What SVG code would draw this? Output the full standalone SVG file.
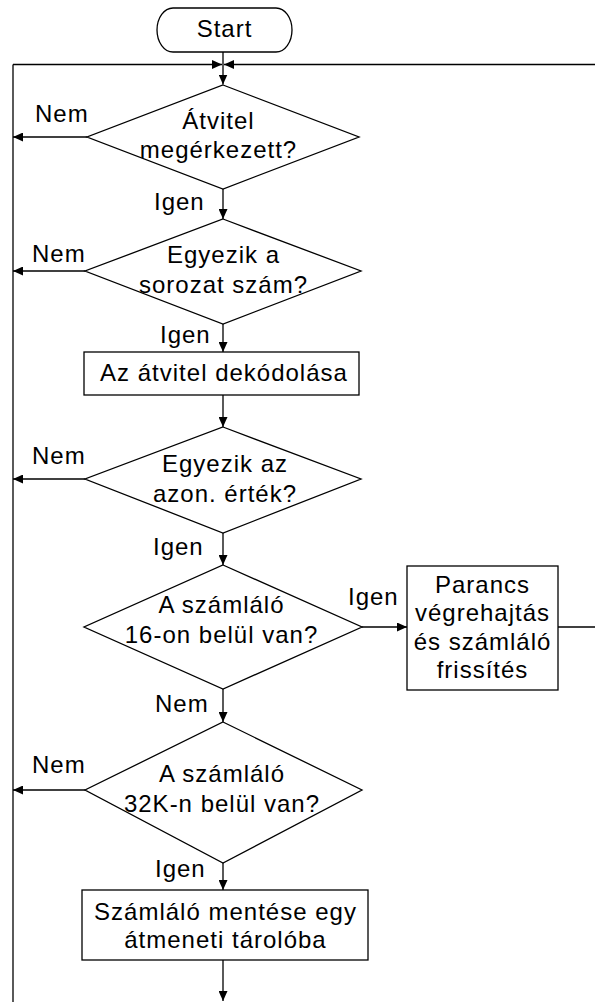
<svg xmlns="http://www.w3.org/2000/svg" width="595" height="1002" viewBox="0 0 595 1002">
  <style>
    .shape { fill: #fff; stroke: #000; stroke-width: 1.3; }
    .line { fill: none; stroke: #000; stroke-width: 1.3; }
    .arrow { marker-end: url(#head); }
    text { font-family: "Liberation Sans", Arial, sans-serif; font-size: 24px; letter-spacing: 1px; fill: #000; }
    .c { text-anchor: middle; }
  </style>
  <defs>
    <marker id="head" markerUnits="userSpaceOnUse" markerWidth="11" markerHeight="9" refX="10" refY="4.5" orient="auto">
      <path d="M0,0 L10,4.5 L0,9 Z" fill="#000"/>
    </marker>
  </defs>
  <rect width="595" height="1002" fill="#fff"/>

  <g id="connectors">
    <!-- start to first decision, joined by the return loops -->
    <path class="line arrow" d="M223,52 V84.5"/>
    <path class="line arrow" d="M13,64.5 H222"/>
    <path class="line arrow" d="M595,64.5 H224"/>
    <path class="line" d="M13,64.5 V1002"/>
    <!-- main spine -->
    <path class="line arrow" d="M223,189 V219"/>
    <path class="line arrow" d="M223,324 V352"/>
    <path class="line arrow" d="M223,395 V427"/>
    <path class="line arrow" d="M223,533 V565"/>
    <path class="line arrow" d="M223,689 V722"/>
    <path class="line arrow" d="M223,863 V890"/>
    <path class="line arrow" d="M223,960 V1001"/>
    <!-- "Nem" exits to the left loop -->
    <path class="line arrow" d="M87,137 H13"/>
    <path class="line arrow" d="M85,271 H13"/>
    <path class="line arrow" d="M85,479 H13"/>
    <path class="line arrow" d="M85,790 H13"/>
    <!-- execute branch -->
    <path class="line arrow" d="M362,627 H407"/>
    <path class="line" d="M558,627 H595"/>
    <!-- branch labels -->
    <text x="35" y="122">Nem</text>
    <text x="32" y="262">Nem</text>
    <text x="32" y="464">Nem</text>
    <text x="32" y="773">Nem</text>
    <text x="154" y="210">Igen</text>
    <text x="160" y="343">Igen</text>
    <text x="153" y="555">Igen</text>
    <text x="155" y="712">Nem</text>
    <text x="155" y="877">Igen</text>
    <text x="348" y="605">Igen</text>
  </g>

  <g id="start">
    <rect class="shape" x="157" y="8" width="135" height="44" rx="16" ry="22"/>
    <text class="c" x="224.5" y="37">Start</text>
  </g>

  <g id="d-arrived">
    <path class="shape" d="M223,85 L359,137 L223,189 L87,137 Z"/>
    <text class="c" x="218.5" y="129">Átvitel</text>
    <text class="c" x="218.5" y="158">megérkezett?</text>
  </g>

  <g id="d-serial">
    <path class="shape" d="M223,219 L361,271 L223,324 L85,271 Z"/>
    <text class="c" x="223.5" y="263">Egyezik a</text>
    <text class="c" x="223.5" y="293">sorozat szám?</text>
  </g>

  <g id="p-decode">
    <rect class="shape" x="84" y="352" width="275" height="43"/>
    <text class="c" x="224" y="381">Az átvitel dekódolása</text>
  </g>

  <g id="d-id">
    <path class="shape" d="M223,427 L361,479 L223,533 L85,479 Z"/>
    <text class="c" x="225" y="472">Egyezik az</text>
    <text class="c" x="225" y="502">azon. érték?</text>
  </g>

  <g id="d-within16">
    <path class="shape" d="M223,565 L362,627 L223,689 L84,627 Z"/>
    <text class="c" x="221.5" y="613">A számláló</text>
    <text class="c" x="221.5" y="643">16-on belül van?</text>
  </g>

  <g id="p-execute">
    <rect class="shape" x="407" y="566" width="151" height="124"/>
    <text class="c" x="482.5" y="593">Parancs</text>
    <text class="c" x="482.5" y="621">végrehajtás</text>
    <text class="c" x="482.5" y="650">és számláló</text>
    <text class="c" x="482.5" y="678">frissítés</text>
  </g>

  <g id="d-within32k">
    <path class="shape" d="M223,722 L362,790 L223,863 L85,790 Z"/>
    <text class="c" x="222" y="782">A számláló</text>
    <text class="c" x="222" y="812">32K-n belül van?</text>
  </g>

  <g id="p-store">
    <rect class="shape" x="82" y="890" width="286" height="70"/>
    <text class="c" x="225.5" y="920">Számláló mentése egy</text>
    <text class="c" x="225.5" y="948">átmeneti tárolóba</text>
  </g>
</svg>
